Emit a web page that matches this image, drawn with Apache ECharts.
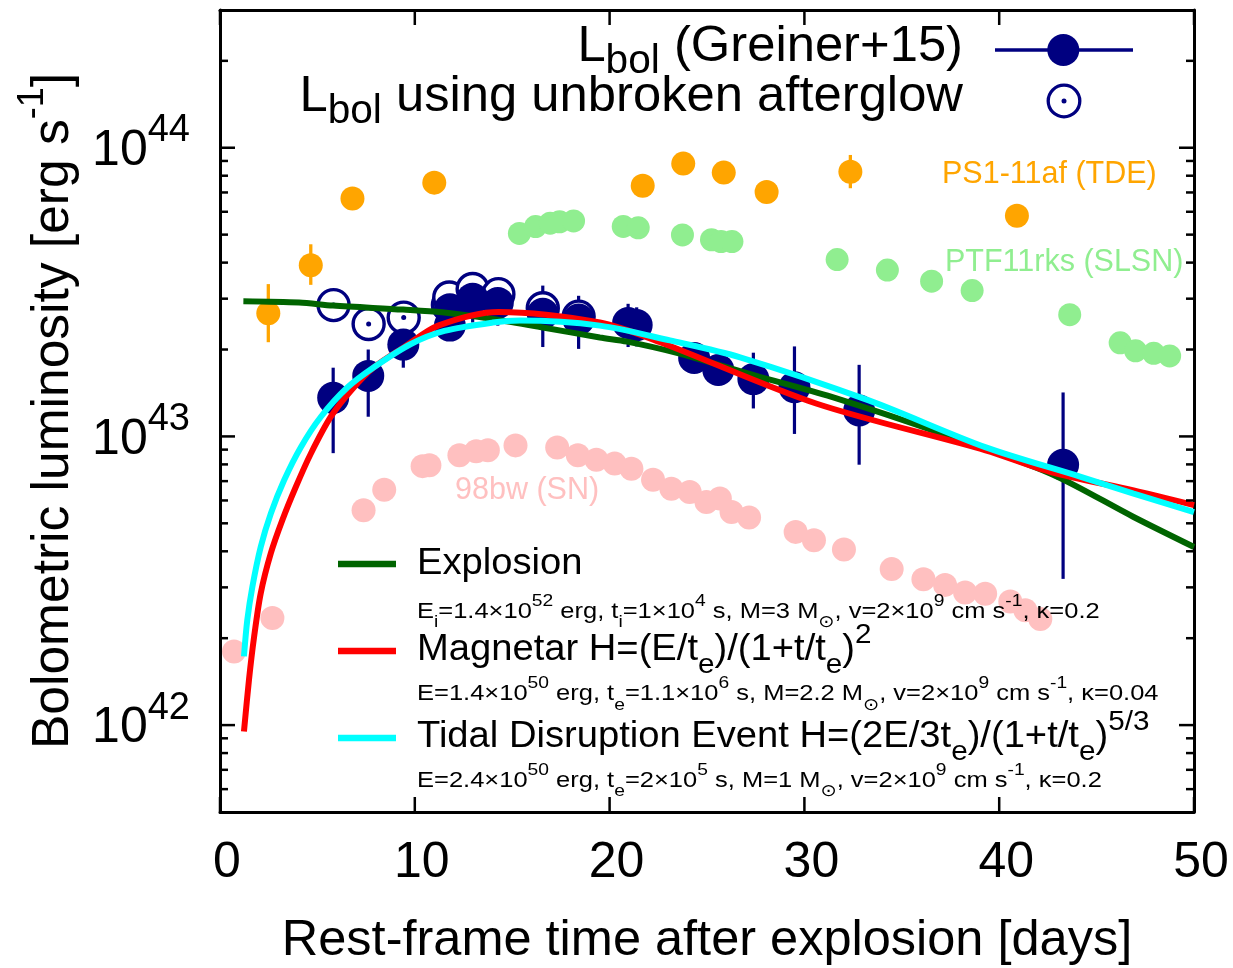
<!DOCTYPE html>
<html><head><meta charset="utf-8">
<script src="https://cdn.jsdelivr.net/npm/echarts@6/dist/echarts.min.js"></script>
<style>html,body{margin:0;padding:0;background:#fff}#c{width:1233px;height:968px}</style>
</head><body><div id="c"></div>
<script>
// ---------- data ----------
const greinerDays = [5.81, 7.61, 9.41, 11.80, 11.80, 12.97, 14.26, 16.57, 18.41, 20.95, 21.39, 24.34, 25.58, 27.38, 29.49, 32.81, 43.28];
const greinerLum  = [1.36e43, 1.62e43, 2.08e43, 2.42e43, 2.76e43, 3.00e43, 2.90e43, 2.66e43, 2.54e43, 2.47e43, 2.43e43, 1.87e43, 1.70e43, 1.58e43, 1.48e43, 1.23e43, 7.98e42];
const greinerLo   = [8.75e42, 1.17e43, 1.73e43, 2.20e43, 2.40e43, 2.48e43, 2.42e43, 2.04e43, 2.01e43, 2.04e43, 2.05e43, 1.75e43, 1.50e43, 1.25e43, 1.02e43, 7.98e42, 3.21e42];
const greinerHi   = [1.73e43, 2.00e43, 2.42e43, 2.65e43, 3.00e43, 3.65e43, 3.46e43, 3.33e43, 3.07e43, 2.88e43, 2.80e43, 2.00e43, 1.90e43, 1.95e43, 2.05e43, 1.77e43, 1.42e43];

const unbrokenDays = [5.83, 7.63, 9.43, 11.70, 11.77, 12.97, 14.29, 16.57, 18.41];
const unbrokenLum  = [2.85e43, 2.45e43, 2.58e43, 2.85e43, 3.03e43, 3.24e43, 3.11e43, 2.78e43, 2.60e43];

const ps1Days = [2.48, 4.66, 6.80, 11.00, 21.70, 23.78, 25.86, 28.06, 32.36, 40.91];
const ps1Lum  = [2.67e43, 3.92e43, 6.67e43, 7.57e43, 7.38e43, 8.81e43, 8.20e43, 7.03e43, 8.26e43, 5.81e43];
const ps1Lo   = [2.12e43, 3.35e43, null, null, null, null, null, null, 7.24e43, null];
const ps1Hi   = [3.37e43, 4.63e43, null, null, null, null, null, null, 9.44e43, null];

const ptfDays = [15.37, 16.20, 16.95, 17.43, 18.15, 20.70, 21.47, 23.74, 25.23, 25.72, 26.28, 31.68, 34.26, 36.53, 38.61, 43.62, 46.21, 47.00, 47.93, 48.75];
const ptfLum  = [5.05e43, 5.33e43, 5.48e43, 5.54e43, 5.58e43, 5.34e43, 5.28e43, 4.99e43, 4.80e43, 4.73e43, 4.73e43, 4.10e43, 3.77e43, 3.45e43, 3.20e43, 2.64e43, 2.11e43, 1.98e43, 1.94e43, 1.90e43];

const sn98Days = [0.72, 2.69, 7.37, 8.43, 10.40, 10.75, 12.29, 13.15, 13.75, 15.17, 17.31, 18.37, 19.32, 20.26, 21.12, 22.23, 23.17, 24.11, 24.97, 25.66, 26.26, 27.16, 29.55, 30.49, 32.03, 34.48, 36.11, 37.22, 38.25, 39.28, 40.57, 41.34, 42.11];
const sn98Lum  = [1.80e42, 2.35e42, 5.55e42, 6.54e42, 7.89e42, 7.94e42, 8.60e42, 8.89e42, 8.96e42, 9.31e42, 9.15e42, 8.60e42, 8.30e42, 8.05e42, 7.73e42, 7.08e42, 6.59e42, 6.42e42, 5.93e42, 6.09e42, 5.47e42, 5.24e42, 4.67e42, 4.37e42, 4.06e42, 3.47e42, 3.20e42, 3.06e42, 2.88e42, 2.85e42, 2.68e42, 2.50e42, 2.33e42];

const explosionDays = [1.2, 4.06, 5.8, 9.4, 11.4, 14.0, 16.5, 19.5, 20.9, 23.4, 27.4, 31.4, 37.3, 42.65, 46.9, 50];
const explosionLum  = [2.94e43, 2.91e43, 2.84e43, 2.75e43, 2.69e43, 2.55e43, 2.39e43, 2.20e43, 2.13e43, 1.95e43, 1.63e43, 1.37e43, 1.01e43, 7.43e42, 5.26e42, 4.14e42];

const magnetarDays = [1.23, 1.49, 1.75, 2.09, 2.61, 3.20, 3.89, 4.66, 5.69, 6.72, 7.92, 9.46, 11.2, 14.3, 19.5, 22.6, 30.6, 39.3, 42.65, 46.9, 50];
const magnetarLum  = [9.5e41, 1.44e42, 2.02e42, 2.86e42, 3.94e42, 5.13e42, 6.68e42, 8.71e42, 1.17e43, 1.44e43, 1.74e43, 2.04e43, 2.42e43, 2.70e43, 2.48e43, 2.12e43, 1.30e43, 8.95e42, 7.53e42, 6.50e42, 5.78e42];

const tdeDays = [1.23, 1.40, 1.66, 2.09, 2.61, 3.29, 4.15, 5.18, 6.55, 7.92, 9.80, 11.52, 14.0, 15.4, 19.5, 23.1, 26.7, 33.34, 39.28, 44.23, 46.9, 50];
const tdeLum  = [1.73e42, 2.31e42, 3.01e42, 4.14e42, 5.41e42, 7.05e42, 9.18e42, 1.17e43, 1.48e43, 1.74e43, 2.09e43, 2.32e43, 2.48e43, 2.52e43, 2.42e43, 2.15e43, 1.88e43, 1.33e43, 9.18e42, 7.23e42, 6.34e42, 5.47e42];

const xTicks = [0, 10, 20, 30, 40, 50];
const yMajorTicks = [1e42, 1e43, 1e44];
const yMinorTicks = [6e41, 7e41, 8e41, 9e41, 2e42, 3e42, 4e42, 5e42, 6e42, 7e42, 8e42, 9e42, 2e43, 3e43, 4e43, 5e43, 6e43, 7e43, 8e43, 9e43, 2e44];

const legendTop = ['L_{bol} (Greiner+15)', 'L_{bol} using unbroken afterglow'];
const modelNames = ['Explosion', 'Magnetar H=(E/t_{e})/(1+t/t_{e})^{2}', 'Tidal Disruption Event H=(2E/3t_{e})/(1+t/t_{e})^{5/3}'];
const modelParams = [
  'E_{i}=1.4×10^{52} erg, t_{i}=1×10^{4} s, M=3 M_{⊙}, v=2×10^{9} cm s^{-1}, κ=0.2',
  'E=1.4×10^{50} erg, t_{e}=1.1×10^{6} s, M=2.2 M_{⊙}, v=2×10^{9} cm s^{-1}, κ=0.04',
  'E=2.4×10^{50} erg, t_{e}=2×10^{5} s, M=1 M_{⊙}, v=2×10^{9} cm s^{-1}, κ=0.2'
];
const objectLabels = ['PS1-11af (TDE)', 'PTF11rks (SLSN)', '98bw (SN)'];
const xTitle = 'Rest-frame time after explosion [days]';
const yTitle = 'Bolometric luminosity [erg s^{-1}]';

// ---------- helpers ----------
const FF = "'Liberation Sans', Arial, 'DejaVu Sans', sans-serif";
const NAVY = '#000080';
const X_MIN = 0, X_MAX = 50, Y_MIN = 5e41, Y_MAX = 3e44;
function toRich(s) {
  const re = /([_^])\{([^}]*)\}/g; let out = '', last = 0, m;
  while ((m = re.exec(s))) {
    if (m.index > last) out += '{b|' + s.slice(last, m.index) + '}';
    out += '{' + (m[1] === '_' ? 'sub' : 'sup') + '|' + m[2] + '}';
    last = re.lastIndex;
  }
  if (last < s.length) out += '{b|' + s.slice(last) + '}';
  return out;
}
function richStyles(f, fs, H, Hsub, Hsup, color, key) {
  const c = {}; c[key] = color;
  return {
    b: Object.assign({fontSize: f, fontFamily: FF, lineHeight: H, verticalAlign: 'middle'}, c),
    sub: Object.assign({fontSize: fs, fontFamily: FF, height: Hsub, verticalAlign: 'bottom'}, c),
    sup: Object.assign({fontSize: fs, fontFamily: FF, height: Hsup, verticalAlign: 'top'}, c)
  };
}
function pts(xs, ys) { return xs.map((x, i) => [x, ys[i]]); }
function bars(xs, lo, hi) { const r = []; xs.forEach((x, i) => { if (lo[i] != null) r.push([x, lo[i], hi[i]]); }); return r; }
function errSeries(data, color, w) {
  return {
    type: 'custom', data, encode: {x: 0, y: [1, 2]}, silent: true,
    renderItem: (p, api) => {
      const a = api.coord([api.value(0), api.value(1)]);
      const b = api.coord([api.value(0), api.value(2)]);
      return {type: 'line', shape: {x1: a[0], y1: a[1], x2: b[0], y2: b[1]}, style: {stroke: color, lineWidth: w}};
    }
  };
}
function textEl(x, y, s, align, rich, sx) {
  return {type: 'text', x, y, z: 100, scaleX: sx || 1, style: {text: toRich(s), rich, align, verticalAlign: 'middle'}};
}
const tickStyle = {stroke: '#000', lineWidth: 2.5};

// ---------- chart ----------
const chart = echarts.init(document.getElementById('c'), null, {renderer: 'canvas'});
const axisCommon = {
  min: X_MIN, max: X_MAX, interval: 10, splitLine: {show: false},
  axisLine: {show: true, onZero: false, lineStyle: {color: '#000', width: 3}},
  axisTick: {show: false}
};
const yCommon = {
  type: 'log', logBase: 10, min: Y_MIN, max: Y_MAX, splitLine: {show: false},
  axisLine: {show: true, onZero: false, lineStyle: {color: '#000', width: 3}},
  axisTick: {show: false}
};
const legRichTop = richStyles(50, 40, 56, 28, 10, '#000', 'fill');
const legRichMain = richStyles(36, 28, 44, 14, 14, '#000', 'fill');
const legRichSmall = richStyles(22.5, 17, 30, 8, 9, '#000', 'fill');
const lab = (c) => ({b: {fontSize: 30.5, fontFamily: FF, fill: c, lineHeight: 34}});

const option = {
  animation: false,
  backgroundColor: '#fff',
  grid: {left: 220, right: 39, top: 10, bottom: 156, containLabel: false, outerBoundsMode: 'none'},
  xAxis: [
    Object.assign({type: 'value', position: 'bottom',
      axisLabel: {show: true, fontSize: 50, fontFamily: FF, color: '#000', margin: 26, padding: [0, 0, 0, 14]},
      name: xTitle, nameLocation: 'middle', nameGap: 104,
      nameTextStyle: {fontSize: 50.5, fontFamily: FF, color: '#000'}}, axisCommon),
    Object.assign({type: 'value', position: 'top', axisLabel: {show: false}}, axisCommon)
  ],
  yAxis: [
    Object.assign({position: 'left',
      axisLabel: {show: true, margin: 30, padding: [7, 0, 0, 0],
        formatter: (v) => { const e = Math.log10(v), n = Math.round(e); return Math.abs(e - n) < 1e-6 ? '{b|10}{sup|' + n + '}' : ''; },
        rich: richStyles(50, 38, 50, 10, 9, '#000', 'color')},
      name: toRich(yTitle), nameLocation: 'middle', nameRotate: 90, nameGap: 140,
      nameTextStyle: {rich: richStyles(51.5, 36, 52, 10, 10, '#000', 'color')}}, yCommon),
    Object.assign({position: 'right', axisLabel: {show: false}}, yCommon)
  ],
  graphic: [
    textEl(963, 47.7, legendTop[0], 'right', legRichTop, 1.015),
    textEl(963, 97.7, legendTop[1], 'right', legRichTop, 1.015),
    {type: 'line', z: 100, shape: {x1: 995, y1: 50, x2: 1133, y2: 50}, style: {stroke: NAVY, lineWidth: 3.5}},
    {type: 'circle', z: 101, shape: {cx: 1063.3, cy: 50, r: 16}, style: {fill: NAVY}},
    {type: 'circle', z: 100, shape: {cx: 1064, cy: 101, r: 15.8}, style: {fill: '#fff', stroke: NAVY, lineWidth: 3.3}},
    {type: 'circle', z: 101, shape: {cx: 1064, cy: 101, r: 2.5}, style: {fill: NAVY}},
    {type: 'line', z: 100, shape: {x1: 338, y1: 564, x2: 396, y2: 564}, style: {stroke: '#006400', lineWidth: 6.5}},
    {type: 'line', z: 100, shape: {x1: 338, y1: 651, x2: 396, y2: 651}, style: {stroke: '#ff0000', lineWidth: 6.5}},
    {type: 'line', z: 100, shape: {x1: 338, y1: 738, x2: 396, y2: 738}, style: {stroke: '#00ffff', lineWidth: 6.5}},
    textEl(417, 564.5, modelNames[0], 'left', legRichMain, 1.06),
    textEl(417, 611.5, modelParams[0], 'left', legRichSmall, 1.133),
    textEl(417, 650.5, modelNames[1], 'left', legRichMain, 1.06),
    textEl(417, 694, modelParams[1], 'left', legRichSmall, 1.133),
    textEl(417, 737.5, modelNames[2], 'left', legRichMain, 1.06),
    textEl(417, 780.7, modelParams[2], 'left', legRichSmall, 1.133),
    textEl(942, 175, objectLabels[0], 'left', lab('#ffa500')),
    textEl(945, 263, objectLabels[1], 'left', lab('#90ee90')),
    textEl(455, 491, objectLabels[2], 'left', lab('#ffc0c0'))
  ],
  series: [
    // axis ticks (inward, on all four sides)
    {type: 'custom', data: yMinorTicks.map(v => [X_MIN, v, 8]).concat(yMajorTicks.map(v => [X_MIN, v, 15])), silent: true, encode: {x: 0, y: 1}, z: 50,
      renderItem: (p, api) => {
        const v = api.value(1), len = api.value(2);
        const a = api.coord([X_MIN, v]); const b = api.coord([X_MAX, v]);
        return {type: 'group', children: [
          {type: 'line', shape: {x1: a[0], y1: a[1], x2: a[0] + len, y2: a[1]}, style: tickStyle},
          {type: 'line', shape: {x1: b[0] - len, y1: b[1], x2: b[0], y2: b[1]}, style: tickStyle}
        ]};
      }},
    {type: 'custom', data: xTicks.map(v => [v, Y_MIN]), silent: true, encode: {x: 0, y: 1}, z: 50,
      renderItem: (p, api) => {
        const v = api.value(0);
        const a = api.coord([v, Y_MIN]); const b = api.coord([v, Y_MAX]);
        return {type: 'group', children: [
          {type: 'line', shape: {x1: a[0], y1: a[1], x2: a[0], y2: a[1] - 15}, style: tickStyle},
          {type: 'line', shape: {x1: b[0], y1: b[1], x2: b[0], y2: b[1] + 15}, style: tickStyle}
        ]};
      }},
    {type: 'scatter', data: pts(sn98Days, sn98Lum), symbol: 'circle', symbolSize: 24, itemStyle: {color: '#ffc0c0', opacity: 1}, silent: true},
    {type: 'scatter', data: pts(ptfDays, ptfLum), symbol: 'circle', symbolSize: 23, itemStyle: {color: '#90ee90', opacity: 1}, silent: true},
    errSeries(bars(ps1Days, ps1Lo, ps1Hi), '#ffa500', 3.3),
    {type: 'scatter', data: pts(ps1Days, ps1Lum), symbol: 'circle', symbolSize: 24, itemStyle: {color: '#ffa500', opacity: 1}, silent: true},
    {type: 'line', data: pts(explosionDays, explosionLum), showSymbol: false, smooth: 0.3, lineStyle: {color: '#006400', width: 6}, silent: true},
    {type: 'line', data: pts(magnetarDays, magnetarLum), showSymbol: false, smooth: 0.3, lineStyle: {color: '#ff0000', width: 6}, silent: true},
    {type: 'line', data: pts(tdeDays, tdeLum), showSymbol: false, smooth: 0.3, lineStyle: {color: '#00ffff', width: 6}, silent: true},
    {type: 'scatter', data: pts(unbrokenDays, unbrokenLum), symbol: 'circle', symbolSize: 31, itemStyle: {color: '#fff', borderColor: NAVY, borderWidth: 3.4, opacity: 1}, silent: true},
    {type: 'scatter', data: pts(unbrokenDays, unbrokenLum), symbol: 'circle', symbolSize: 5, itemStyle: {color: NAVY, opacity: 1}, silent: true},
    errSeries(bars(greinerDays, greinerLo, greinerHi), NAVY, 3.2),
    {type: 'scatter', data: pts(greinerDays, greinerLum), symbol: 'circle', symbolSize: 32, itemStyle: {color: NAVY, opacity: 1}, silent: true}
  ]
};
chart.setOption(option);
</script>
</body></html>
